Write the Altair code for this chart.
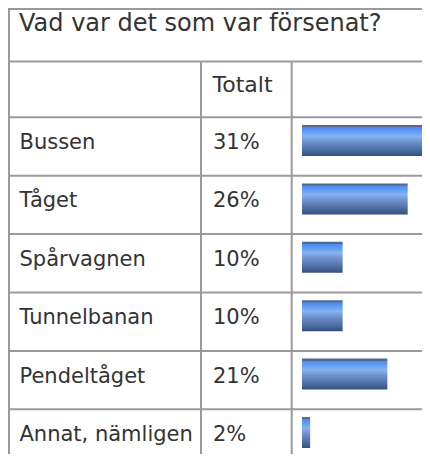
import altair as alt
import pandas as pd

# ---- data ----
categories = ["Bussen", "Tåget", "Spårvagnen", "Tunnelbanan", "Pendeltåget", "Annat, nämligen"]
values = [31, 26, 10, 10, 21, 2]
title_text = "Vad var det som var försenat?"
column_header = "Totalt"

df = pd.DataFrame({
    "cat": categories,
    "val": values,
    "lab": [f"{v}%" for v in values],
})
dummy = pd.DataFrame({"a": [0]})

# 414 x 446 plus the 8px page margin fills the 430 x 462 window exactly
W, H = 414, 446
LINE = "#9a9a9a"
TXT = "#333333"
FONT = "DejaVu Sans"

row_top = 109.3
pitch = 58.4
yscale = alt.Scale(domain=categories, range=[117, 117 + 5 * pitch + 31],
                   paddingInner=0.469, paddingOuter=0)
Y = alt.Y("cat:N", scale=yscale, axis=None, sort=categories)

grad = alt.Gradient(
    gradient="linear",
    stops=[
        alt.GradientStop(color="#56688a", offset=0),
        alt.GradientStop(color="#56688a", offset=0.06),
        alt.GradientStop(color="#4a8cf2", offset=0.08),
        alt.GradientStop(color="#6aa2f4", offset=0.25),
        alt.GradientStop(color="#86b3ef", offset=0.36),
        alt.GradientStop(color="#6c90cc", offset=0.55),
        alt.GradientStop(color="#5072a8", offset=0.78),
        alt.GradientStop(color="#33507e", offset=1),
    ],
    x1=0, x2=0, y1=0, y2=1,
)

bars = alt.Chart(df).mark_bar(color=grad, cornerRadius=0).encode(
    x=alt.X("val:Q", scale=alt.Scale(domain=[0, 31], range=[294, 420]), axis=None),
    y=Y,
)

labels = alt.Chart(df).mark_text(
    align="left", baseline="alphabetic", dy=8.5, font=FONT, fontSize=21, color=TXT
).encode(x=alt.value(11.5), y=Y, text="cat:N")

pcts = alt.Chart(df).mark_text(
    align="left", baseline="alphabetic", dy=8.5, font=FONT, fontSize=21, color=TXT
).encode(x=alt.value(205), y=Y, text="lab:N")

title = alt.Chart(dummy).mark_text(
    align="left", baseline="alphabetic", font=FONT, fontSize=24, color=TXT
).encode(x=alt.value(11), y=alt.value(23), text=alt.value(title_text))

header = alt.Chart(dummy).mark_text(
    align="left", baseline="alphabetic", font=FONT, fontSize=22, color=TXT
).encode(x=alt.value(204.5), y=alt.value(84), text=alt.value(column_header))

layers = []
# horizontal lines
h_lines = [1, 53.5] + [row_top + i * pitch for i in range(6)]
for yy in h_lines:
    layers.append(
        alt.Chart(dummy).mark_rule(color=LINE, strokeWidth=2).encode(
            x=alt.value(0), x2=alt.value(422), y=alt.value(yy)
        )
    )
# vertical lines
layers.append(
    alt.Chart(dummy).mark_rule(color=LINE, strokeWidth=2).encode(
        x=alt.value(1), y=alt.value(0), y2=alt.value(454)
    )
)
for xx in [193, 283.7]:
    layers.append(
        alt.Chart(dummy).mark_rule(color=LINE, strokeWidth=2).encode(
            x=alt.value(xx), y=alt.value(53.5), y2=alt.value(454)
        )
    )

chart = alt.layer(*layers, bars, labels, pcts, title, header).properties(
    width=W, height=H, padding=0, autosize=alt.AutoSizeParams(type="none")
).configure_view(stroke=None)

chart.save("out.html", embed_options={"renderer": "svg", "actions": False})
